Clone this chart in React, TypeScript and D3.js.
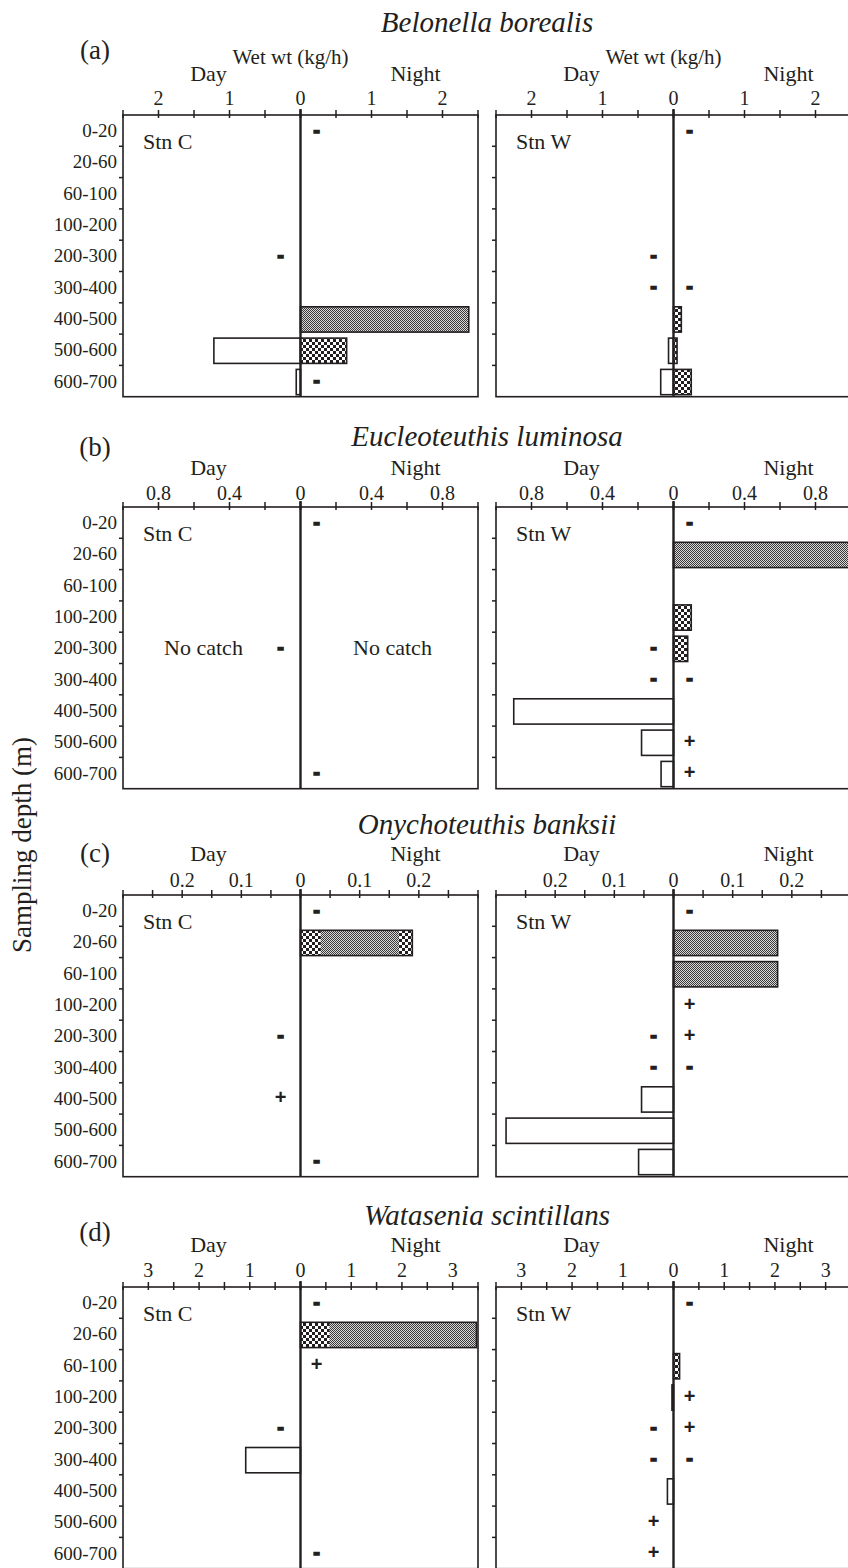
import React from "react";
import * as d3 from "d3";

// ---------- data ----------
const depths = ["0-20", "20-60", "60-100", "100-200", "200-300", "300-400", "400-500", "500-600", "600-700"];
const species = ["Belonella borealis", "Eucleoteuthis luminosa", "Onychoteuthis banksii", "Watasenia scintillans"];
const panelLetters = ["(a)", "(b)", "(c)", "(d)"];
const stations = ["Stn C", "Stn W"];
const axisMax = [2.5, 1.0, 0.3, 3.5];
const minorStep = [0.5, 0.2, 0.05, 0.5];
const labelTicks = [[1, 2], [0.4, 0.8], [0.1, 0.2], [1, 2, 3]];
const unitLabel = "Wet wt (kg/h)";
const noCatchLabel = "No catch";

// (a) Belonella borealis
const aCDay = [null, null, null, null, null, null, null, 1.22, 0.06];
const aCNight = [null, null, null, null, null, null, 2.37, 0.65, null];
const aCNightPat = ["", "", "", "", "", "", "fine", "coarse", ""];
const aCDayMark = ["", "", "", "", "-", "", "", "", ""];
const aCNightMark = ["-", "", "", "", "", "", "", "", "-"];
const aWDay = [null, null, null, null, null, null, null, 0.07, 0.18];
const aWNight = [null, null, null, null, null, null, 0.11, 0.05, 0.25];
const aWNightPat = ["", "", "", "", "", "", "coarse", "coarse", "coarse"];
const aWDayMark = ["", "", "", "", "-", "-", "", "", ""];
const aWNightMark = ["-", "", "", "", "", "-", "", "", ""];

// (b) Eucleoteuthis luminosa
const bCDay = [null, null, null, null, null, null, null, null, null];
const bCNight = [null, null, null, null, null, null, null, null, null];
const bCNightPat = ["", "", "", "", "", "", "", "", ""];
const bCDayMark = ["", "", "", "", "-", "", "", "", ""];
const bCNightMark = ["-", "", "", "", "", "", "", "", "-"];
const bWDay = [null, null, null, null, null, null, 0.9, 0.18, 0.07];
const bWNight = [null, 1.0, null, 0.1, 0.08, null, null, null, null];
const bWNightPat = ["", "fine", "", "coarse", "coarse", "", "", "", ""];
const bWDayMark = ["", "", "", "", "-", "-", "", "", ""];
const bWNightMark = ["-", "", "", "", "", "-", "", "+", "+"];

// (c) Onychoteuthis banksii
const cCDay = [null, null, null, null, null, null, null, null, null];
const cCNight = [null, 0.189, null, null, null, null, null, null, null];
const cCNightPat = ["", "fine", "", "", "", "", "", "", ""];
const cCNightCoarse = [[], [[0, 0.034], [0.166, 0.189]], [], [], [], [], [], [], []];
const cCDayMark = ["", "", "", "", "-", "", "+", "", ""];
const cCNightMark = ["-", "", "", "", "", "", "", "", "-"];
const cWDay = [null, null, null, null, null, null, 0.054, 0.283, 0.059];
const cWNight = [null, 0.176, 0.176, null, null, null, null, null, null];
const cWNightPat = ["", "fine", "fine", "", "", "", "", "", ""];
const cWDayMark = ["", "", "", "", "-", "-", "", "", ""];
const cWNightMark = ["-", "", "", "+", "+", "-", "", "", ""];

// (d) Watasenia scintillans
const dCDay = [null, null, null, null, null, 1.08, null, null, null];
const dCNight = [null, 3.47, null, null, null, null, null, null, null];
const dCNightPat = ["", "fine", "", "", "", "", "", "", ""];
const dCNightCoarse = [[], [[0, 0.57]], [], [], [], [], [], [], []];
const dCDayMark = ["", "", "", "", "-", "", "", "", ""];
const dCNightMark = ["-", "", "+", "", "", "", "", "", "-"];
const dWDay = [null, null, null, 0.03, null, null, 0.12, null, null];
const dWNight = [null, null, 0.12, null, null, null, null, null, null];
const dWNightPat = ["", "", "coarse", "", "", "", "", "", ""];
const dWDayMark = ["", "", "", "", "-", "-", "", "+", "+"];
const dWNightMark = ["-", "", "", "+", "+", "-", "", "", ""];

const emptyCoarse = depths.map(() => []);

const panels = [
  {
    st: [
      { day: aCDay, night: aCNight, pat: aCNightPat, coarse: emptyCoarse, dm: aCDayMark, nm: aCNightMark, noCatch: false },
      { day: aWDay, night: aWNight, pat: aWNightPat, coarse: emptyCoarse, dm: aWDayMark, nm: aWNightMark, noCatch: false },
    ],
  },
  {
    st: [
      { day: bCDay, night: bCNight, pat: bCNightPat, coarse: emptyCoarse, dm: bCDayMark, nm: bCNightMark, noCatch: true },
      { day: bWDay, night: bWNight, pat: bWNightPat, coarse: emptyCoarse, dm: bWDayMark, nm: bWNightMark, noCatch: false },
    ],
  },
  {
    st: [
      { day: cCDay, night: cCNight, pat: cCNightPat, coarse: cCNightCoarse, dm: cCDayMark, nm: cCNightMark, noCatch: false },
      { day: cWDay, night: cWNight, pat: cWNightPat, coarse: emptyCoarse, dm: cWDayMark, nm: cWNightMark, noCatch: false },
    ],
  },
  {
    st: [
      { day: dCDay, night: dCNight, pat: dCNightPat, coarse: dCNightCoarse, dm: dCDayMark, nm: dCNightMark, noCatch: false },
      { day: dWDay, night: dWNight, pat: dWNightPat, coarse: emptyCoarse, dm: dWDayMark, nm: dWNightMark, noCatch: false },
    ],
  },
];

// ---------- layout ----------
const W = 848;
const H = 1568;
const ink = "#231f20";
const serif = "'Liberation Serif', 'Times New Roman', serif";
const sans = "'Liberation Sans', Arial, sans-serif";
const boxX = [
  [123, 478],
  [496, 851],
];
const axisY = [115, 507, 895, 1287];
const rowH = 31.3;
const titleY = [22, 436, 824, 1215];
const letterY = [50, 447, 853, 1232];
const dayNightY = [73, 467, 853, 1244];
const tickLabelY = [98, 493, 880, 1270];
const wetY = 57;

function Half({ pi, si }: { pi: number; si: number }) {
  const [x0, x1] = boxX[si];
  const zero = (x0 + x1) / 2;
  const max = axisMax[pi];
  const xN = d3.scaleLinear().domain([0, max]).range([zero, x1]);
  const xD = d3.scaleLinear().domain([0, max]).range([zero, x0]);
  const top = axisY[pi];
  const y = d3.scaleBand<string>().domain(depths).range([top, top + rowH * depths.length]);
  const bottom = top + rowH * depths.length;
  const d = panels[pi].st[si];
  const nMinor = Math.round(max / minorStep[pi]);
  const minor = d3.range(0, nMinor + 1).map((i) => i * minorStep[pi]);
  const barY = (dep: string) => (y(dep) as number) + 4;
  const barH = y.bandwidth() - 6;
  const cy = (dep: string) => (y(dep) as number) + y.bandwidth() / 2;

  const marker = (m: string, x: number, yy: number, key: string) =>
    m ? (
      <text
        key={key}
        x={x}
        y={yy}
        textAnchor="middle"
        dominantBaseline="central"
        fontFamily={sans}
        fontWeight="bold"
        fontSize={20}
        fill={ink}
        stroke={m === "-" ? ink : "none"}
        strokeWidth={m === "-" ? 1.4 : 0}
      >
        {m}
      </text>
    ) : null;

  return (
    <g>
      {/* bars */}
      {depths.map((dep, i) => {
        const v = d.day[i];
        if (v == null) return null;
        return (
          <rect
            key={"d" + i}
            x={xD(v)}
            y={barY(dep)}
            width={zero - xD(v)}
            height={barH}
            fill="#fff"
            stroke={ink}
            strokeWidth={1.6}
          />
        );
      })}
      {depths.map((dep, i) => {
        const v = d.night[i];
        if (v == null) return null;
        return (
          <g key={"n" + i}>
            <rect x={zero} y={barY(dep)} width={xN(v) - zero} height={barH} fill={`url(#${d.pat[i] || "fine"})`} />
            {d.coarse[i].map((seg: number[], k: number) => (
              <rect
                key={k}
                x={xN(seg[0])}
                y={barY(dep)}
                width={xN(seg[1]) - xN(seg[0])}
                height={barH}
                fill="url(#coarse)"
              />
            ))}
            <rect x={zero} y={barY(dep)} width={xN(v) - zero} height={barH} fill="none" stroke={ink} strokeWidth={1.6} />
          </g>
        );
      })}
      {/* markers */}
      {depths.map((dep, i) => marker(d.dm[i], zero - 20, cy(dep) - 1, "dm" + i))}
      {depths.map((dep, i) => marker(d.nm[i], zero + 16, cy(dep) - 1, "nm" + i))}
      {/* frame */}
      <rect x={x0} y={top} width={x1 - x0} height={bottom - top} fill="none" stroke={ink} strokeWidth={1.6} />
      <line x1={zero} x2={zero} y1={top - 6} y2={bottom} stroke={ink} strokeWidth={2.4} />
      {/* left row ticks */}
      {depths.slice(1).map((dep) => (
        <line key={dep} x1={x0 - 4} x2={x0} y1={y(dep)} y2={y(dep)} stroke={ink} strokeWidth={1.5} />
      ))}
      {/* top axis ticks */}
      {minor.map((v) => (
        <g key={"t" + v}>
          <line x1={xN(v)} x2={xN(v)} y1={top - 5} y2={top + 3} stroke={ink} strokeWidth={1.5} />
          <line x1={xD(v)} x2={xD(v)} y1={top - 5} y2={top + 3} stroke={ink} strokeWidth={1.5} />
        </g>
      ))}
      {/* tick labels */}
      <text x={zero} y={tickLabelY[pi]} textAnchor="middle" dominantBaseline="central" fontFamily={serif} fontSize={20} fill={ink}>
        0
      </text>
      {labelTicks[pi].map((v) => (
        <g key={"l" + v}>
          <text x={xN(v)} y={tickLabelY[pi]} textAnchor="middle" dominantBaseline="central" fontFamily={serif} fontSize={20} fill={ink}>
            {String(v)}
          </text>
          <text x={xD(v)} y={tickLabelY[pi]} textAnchor="middle" dominantBaseline="central" fontFamily={serif} fontSize={20} fill={ink}>
            {String(v)}
          </text>
        </g>
      ))}
      {/* Day / Night */}
      <text x={zero - 92} y={dayNightY[pi]} textAnchor="middle" dominantBaseline="central" fontFamily={serif} fontSize={22} fill={ink}>
        Day
      </text>
      <text x={zero + 115} y={dayNightY[pi]} textAnchor="middle" dominantBaseline="central" fontFamily={serif} fontSize={22} fill={ink}>
        Night
      </text>
      {pi === 0 && (
        <text x={zero - 10} y={wetY} textAnchor="middle" dominantBaseline="central" fontFamily={serif} fontSize={21} fill={ink}>
          {unitLabel}
        </text>
      )}
      {/* station label */}
      <text x={x0 + 20} y={top + 26} dominantBaseline="central" fontFamily={serif} fontSize={22} fill={ink}>
        {stations[si]}
      </text>
      {d.noCatch && (
        <g>
          <text x={zero - 97} y={cy(depths[4])} textAnchor="middle" dominantBaseline="central" fontFamily={serif} fontSize={22} fill={ink}>
            {noCatchLabel}
          </text>
          <text x={zero + 92} y={cy(depths[4])} textAnchor="middle" dominantBaseline="central" fontFamily={serif} fontSize={22} fill={ink}>
            {noCatchLabel}
          </text>
        </g>
      )}
    </g>
  );
}

function Panel({ pi }: { pi: number }) {
  const top = axisY[pi];
  const y = d3.scaleBand<string>().domain(depths).range([top, top + rowH * depths.length]);
  return (
    <g>
      <text x={487} y={titleY[pi]} textAnchor="middle" dominantBaseline="central" fontFamily={serif} fontStyle="italic" fontSize={29} fill={ink}>
        {species[pi]}
      </text>
      <text x={95} y={letterY[pi]} textAnchor="middle" dominantBaseline="central" fontFamily={serif} fontSize={27} fill={ink}>
        {panelLetters[pi]}
      </text>
      {depths.map((dep) => (
        <text
          key={dep}
          x={117}
          y={(y(dep) as number) + y.bandwidth() / 2}
          textAnchor="end"
          dominantBaseline="central"
          fontFamily={serif}
          fontSize={19}
          fill={ink}
        >
          {dep}
        </text>
      ))}
      <Half pi={pi} si={0} />
      <Half pi={pi} si={1} />
    </g>
  );
}

export default function App() {
  return (
    <svg
      width={W}
      height={H}
      viewBox={`0 0 ${W} ${H}`}
      style={{ position: "absolute", left: 0, top: 0, background: "#fff" }}
    >
      <defs>
        <pattern id="fine" width={2} height={2} patternUnits="userSpaceOnUse">
          <rect width={2} height={2} fill="#d8d8d8" />
          <rect width={1} height={1} fill="#3a3a3a" />
          <rect x={1} y={1} width={1} height={1} fill="#3a3a3a" />
        </pattern>
        <pattern id="coarse" width={6} height={6} patternUnits="userSpaceOnUse">
          <rect width={6} height={6} fill="#fff" />
          <rect width={3} height={3} fill={ink} />
          <rect x={3} y={3} width={3} height={3} fill={ink} />
        </pattern>
      </defs>
      <rect width={W} height={H} fill="#fff" />
      {species.map((_, pi) => (
        <Panel key={pi} pi={pi} />
      ))}
      <text
        transform={`translate(31, 845) rotate(-90)`}
        textAnchor="middle"
        fontFamily={serif}
        fontSize={27}
        fill={ink}
      >
        Sampling depth (m)
      </text>
    </svg>
  );
}
